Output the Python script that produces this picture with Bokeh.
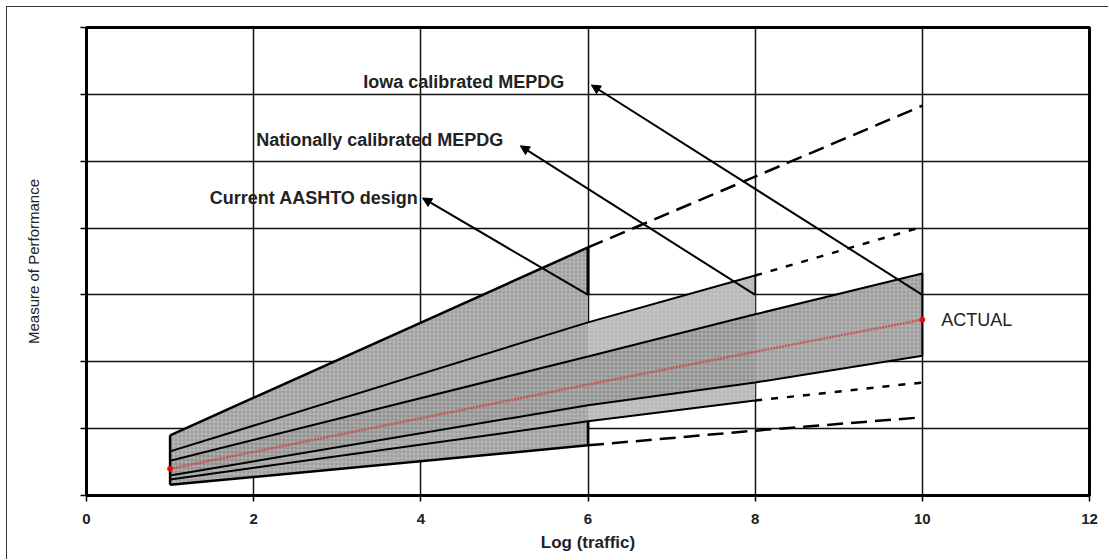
from bokeh.plotting import figure
from bokeh.models import Range1d, SingleIntervalTicker, Arrow, NormalHead, ColumnDataSource, CustomJSTickFormatter
from bokeh.embed import file_html
from bokeh.resources import INLINE
from bokeh.core.properties import value

# ---------------- data ----------------
log_traffic = [1, 6, 8, 10]
aashto_upper = [0.90, 3.71, 4.77, 5.83]
national_upper = [0.66, 2.59, 3.29, 4.02]
iowa_upper = [0.52, 2.08, 2.71, 3.32]
actual = [0.40, 1.66, 2.15, 2.63]
iowa_lower = [0.30, 1.35, 1.69, 2.09]
national_lower = [0.24, 1.11, 1.42, 1.69]
aashto_lower = [0.16, 0.75, 0.97, 1.17]

labels = ["Current AASHTO design", "Nationally calibrated MEPDG", "Iowa calibrated MEPDG"]
arrow_tail_x = [6, 8, 10]
arrow_tail_y = [3, 3, 3]
arrow_head_x = [4.02, 5.19, 6.04]
arrow_head_y = [4.45, 5.23, 6.14]
actual_label = "ACTUAL"

x_title = "Log (traffic)"
y_title = "Measure of Performance"

FONT = "Liberation Sans"

p = figure(width=1102, height=553, output_backend="svg", toolbar_location=None,
           x_range=Range1d(0, 12), y_range=Range1d(0, 7),
           min_border_left=79, min_border_top=20, min_border_right=20, min_border_bottom=65)
p.margin = (6, 0, 0, 6)
p.styles = {"border-top": "1px solid #333", "border-left": "1px solid #333"}
p.background_fill_color = "white"
p.border_fill_color = "white"
p.outline_line_color = "black"
p.outline_line_width = 3

# grid
p.xaxis.ticker = SingleIntervalTicker(interval=2)
p.yaxis.ticker = SingleIntervalTicker(interval=1)
p.xgrid.ticker = SingleIntervalTicker(interval=2)
p.ygrid.ticker = SingleIntervalTicker(interval=1)
for g in (p.xgrid, p.ygrid):
    g.grid_line_color = "#111111"
    g.grid_line_width = 1.5
    g.grid_line_alpha = 1.0

# axes
for ax in (p.xaxis, p.yaxis):
    ax.axis_line_width = 3
    ax.axis_line_color = "black"
    ax.major_tick_line_color = "black"
    ax.major_tick_line_width = 1.5
    ax.major_tick_in = 0
    ax.major_tick_out = 6
    ax.minor_tick_line_color = None
p.xaxis.major_label_text_font = FONT
p.xaxis.major_label_text_font_style = "bold"
p.xaxis.major_label_text_font_size = "15px"
p.xaxis.major_label_text_color = "#222222"
p.xaxis.major_label_standoff = 12
p.xaxis.axis_label = x_title
p.xaxis.axis_label_text_font = FONT
p.xaxis.axis_label_text_font_style = "bold"
p.xaxis.axis_label_text_font_size = "17px"
p.xaxis.axis_label_text_color = "#222222"
p.xaxis.axis_label_standoff = 6

# the y axis shows ticks only, no numbers
p.yaxis.formatter = CustomJSTickFormatter(code="return ''")
p.yaxis.major_label_standoff = 0
p.yaxis.axis_label = y_title
p.yaxis.axis_label_text_font = FONT
p.yaxis.axis_label_text_font_style = "normal"
p.yaxis.axis_label_text_font_size = "15px"
p.yaxis.axis_label_text_color = "#222222"
p.yaxis.axis_label_standoff = 39

X = log_traffic
hatch = dict(hatch_pattern="+", hatch_scale=4, hatch_weight=1, hatch_color="#cfcfcf", hatch_alpha=0.55)

# bands
p.varea(x=X[:3], y1=national_lower[:3], y2=national_upper[:3], fill_color="#b8b8b8", **hatch)
p.varea(x=X[:2], y1=aashto_lower[:2], y2=aashto_upper[:2], fill_color="#9d9d9d", **hatch)
p.varea(x=X[:3], y1=iowa_lower[:3], y2=iowa_upper[:3], fill_color="#8e8e8e", **hatch)
p.varea(x=X[2:], y1=iowa_lower[2:], y2=iowa_upper[2:], fill_color="#9b9b9b", **hatch)

# band borders (solid) and extensions (dashed)
p.line(X[:2], aashto_upper[:2], line_color="black", line_width=2.5)
p.line(X[1:], aashto_upper[1:], line_color="black", line_width=2.5, line_dash="16 8")
p.line(X[:2], aashto_lower[:2], line_color="black", line_width=2.5)
p.line(X[1:], aashto_lower[1:], line_color="black", line_width=2.5, line_dash="16 8")
p.line(X[:3], national_upper[:3], line_color="black", line_width=2)
p.line(X[2:], national_upper[2:], line_color="black", line_width=2.5, line_dash="7 9")
p.line(X[:3], national_lower[:3], line_color="black", line_width=2)
p.line(X[2:], national_lower[2:], line_color="black", line_width=2.5, line_dash="7 9")
p.line(X, iowa_upper, line_color="black", line_width=2)
p.line(X, iowa_lower, line_color="black", line_width=2)

# vertical edges of the bands
p.segment(x0=[X[0], X[1], X[1], X[2], X[3]],
          y0=[aashto_lower[0], aashto_upper[1], national_lower[1], national_upper[2], iowa_upper[3]],
          x1=[X[0], X[1], X[1], X[2], X[3]],
          y1=[aashto_upper[0], arrow_tail_y[0], aashto_lower[1], arrow_tail_y[1], iowa_lower[3]],
          line_color="black", line_width=[2.5, 3, 2.5, 1.5, 2])

# actual performance line
p.line(X, actual, line_color="#d23c3c", line_width=2.5, line_dash="2 1", line_alpha=0.75)
p.scatter([X[0], X[-1]], [actual[0], actual[-1]], size=5, color="#e01010")
p.text(x=[X[-1]], y=[actual[-1]], text=[actual_label], x_offset=19,
       text_font=value(FONT), text_font_size="18px", text_color="#222222",
       text_align="left", text_baseline="middle")

# arrows with labels
asrc = ColumnDataSource(dict(x0=arrow_tail_x, y0=arrow_tail_y, x1=arrow_head_x, y1=arrow_head_y,
                             lab=labels, dx=[-4, -17, -27], dy=[0, -6, -3]))
p.add_layout(Arrow(x_start="x0", y_start="y0", x_end="x1", y_end="y1", source=asrc,
                   line_color="black", line_width=2,
                   end=NormalHead(size=9, fill_color="black", line_color="black")))
p.text(x="x1", y="y1", text="lab", x_offset="dx", y_offset="dy", source=asrc,
       text_font=value(FONT), text_font_style="bold", text_font_size="18px", text_color="#222222",
       text_align="right", text_baseline="middle")

open("out.html", "w").write(file_html(p, INLINE))
